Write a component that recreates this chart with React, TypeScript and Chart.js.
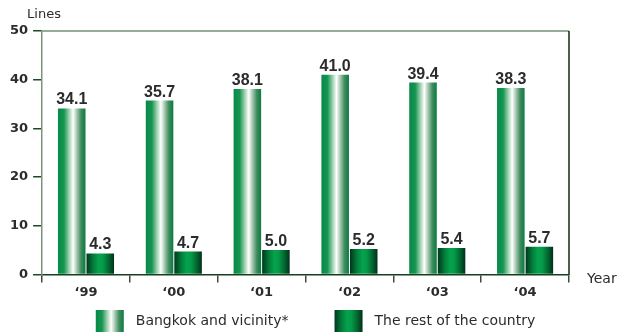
import React, { useEffect, useRef } from "react";
import { Chart, registerables } from "chart.js";

Chart.register(...registerables);

// Telephone lines (per 100 people) by region
const years = ["\u201899", "\u201800", "\u201801", "\u201802", "\u201803", "\u201804"];
const bangkokLines = [34.1, 35.7, 38.1, 41.0, 39.4, 38.3];
const restLines = [4.3, 4.7, 5.0, 5.2, 5.4, 5.7];
const seriesNames = ["Bangkok and vicinity*", "The rest of the country"];
const yAxisTitle = "Lines";
const xAxisTitle = "Year";

const CAT_PCT = 0.65;
const BAR_PCT = 0.965;

// Cylinder-like horizontal shading for each series
const bangkokStops: [number, string][] = [
  [0, "#068a45"],
  [0.22, "#169552"],
  [0.42, "#a9d6b6"],
  [0.55, "#ffffff"],
  [0.68, "#a8c9b2"],
  [0.84, "#3f8d5f"],
  [1, "#0b7a40"],
];
const restStops: [number, string][] = [
  [0, "#00361c"],
  [0.25, "#037d3a"],
  [0.45, "#05a34e"],
  [0.6, "#049a48"],
  [0.8, "#026a31"],
  [1, "#00301a"],
];

const TEXT = "#2b2b2b";

function shade(ctx: CanvasRenderingContext2D, left: number, width: number, stops: [number, string][]) {
  const g = ctx.createLinearGradient(left, 0, left + width, 0);
  stops.forEach(([o, c]) => g.addColorStop(o, c));
  return g;
}

function barFill(stops: [number, string][], datasetIndex: number, datasetCount: number) {
  return (c: any) => {
    const chart = c.chart;
    const x = chart.scales && chart.scales.x;
    if (!chart.chartArea || !x || c.dataIndex === undefined) return stops[2][1];
    const n = chart.data.labels.length;
    const catW = x.width / n;
    const groupW = catW * CAT_PCT;
    const slot = groupW / datasetCount;
    const barW = slot * BAR_PCT;
    const center = x.getPixelForValue(c.dataIndex);
    const slotCenter = center - groupW / 2 + slot * (datasetIndex + 0.5);
    return shade(chart.ctx, slotCenter - barW / 2, barW, stops);
  };
}

const decorPlugin = {
  id: "decor",
  beforeDatasetsDraw(chart: any) {
    const { ctx, chartArea } = chart;
    ctx.save();
    ctx.lineWidth = 1.5;
    ctx.strokeStyle = "#738f76";
    ctx.beginPath();
    ctx.moveTo(chartArea.left, chartArea.top);
    ctx.lineTo(chartArea.right, chartArea.top);
    ctx.stroke();
    ctx.strokeStyle = "#0c2b14";
    ctx.beginPath();
    ctx.moveTo(chartArea.right, chartArea.top);
    ctx.lineTo(chartArea.right, chartArea.bottom);
    ctx.stroke();
    ctx.restore();
  },
  afterDatasetsDraw(chart: any) {
    const { ctx } = chart;
    ctx.save();
    ctx.fillStyle = TEXT;
    ctx.font = "bold 16px 'Liberation Sans', Arial, sans-serif";
    ctx.textAlign = "center";
    ctx.textBaseline = "alphabetic";
    chart.data.datasets.forEach((ds: any, di: number) => {
      const meta = chart.getDatasetMeta(di);
      meta.data.forEach((bar: any, i: number) => {
        ctx.fillText(Number(ds.data[i]).toFixed(1), bar.x, bar.y - 4);
      });
    });
    ctx.restore();
  },
  afterDraw(chart: any) {
    const { ctx, chartArea, width, height } = chart;
    ctx.save();
    ctx.fillStyle = TEXT;
    ctx.textBaseline = "middle";
    ctx.textAlign = "left";
    ctx.font = "13px 'DejaVu Sans', sans-serif";
    ctx.fillText(yAxisTitle, chartArea.left - 15, chartArea.top - 16);
    ctx.font = "14px 'DejaVu Sans', sans-serif";
    ctx.fillText(xAxisTitle, chartArea.right + 18, chartArea.bottom + 5);

    // Legend with shaded swatches
    const sw = 28;
    const sh = 22;
    const gapText = 12;
    const gapItem = 46;
    ctx.font = "14px 'DejaVu Sans', sans-serif";
    const widths = seriesNames.map((t) => ctx.measureText(t).width);
    const total = widths.reduce((a, w) => a + sw + gapText + w, 0) + gapItem * (seriesNames.length - 1);
    let x = width / 2 + 3 - total / 2;
    const top = height - sh;
    const stopsList = [bangkokStops, restStops];
    seriesNames.forEach((t, i) => {
      ctx.fillStyle = shade(ctx, x, sw, stopsList[i]);
      ctx.fillRect(x, top, sw, sh);
      ctx.fillStyle = TEXT;
      ctx.fillText(t, x + sw + gapText, top + sh / 2);
      x += sw + gapText + widths[i] + gapItem;
    });
    ctx.restore();
  },
};

export default function App() {
  const canvasRef = useRef<HTMLCanvasElement | null>(null);

  useEffect(() => {
    if (!canvasRef.current) return;
    Chart.defaults.font.family = "'DejaVu Sans', sans-serif";
    const chart = new Chart(canvasRef.current, {
      type: "bar",
      data: {
        labels: years,
        datasets: [
          {
            label: seriesNames[0],
            data: bangkokLines,
            backgroundColor: barFill(bangkokStops, 0, 2),
            borderWidth: 0,
            categoryPercentage: CAT_PCT,
            barPercentage: BAR_PCT,
          },
          {
            label: seriesNames[1],
            data: restLines,
            backgroundColor: barFill(restStops, 1, 2),
            borderWidth: 0,
            categoryPercentage: CAT_PCT,
            barPercentage: BAR_PCT,
          },
        ],
      },
      options: {
        responsive: true,
        maintainAspectRatio: false,
        animation: false,
        layout: { padding: { left: 5, right: 56, top: 31, bottom: 30 } },
        plugins: {
          legend: { display: false },
          tooltip: { enabled: false },
          title: { display: false },
        },
        scales: {
          x: {
            offset: true,
            grid: {
              offset: true,
              drawOnChartArea: false,
              drawTicks: true,
              tickLength: 8,
              color: "#3a4a3c",
              lineWidth: 1.5,
            },
            border: { display: true, color: "#15401f", width: 1.5 },
            ticks: {
              color: TEXT,
              padding: 2,
              font: { size: 13, weight: "bold", family: "'DejaVu Sans', sans-serif" },
            },
          },
          y: {
            min: 0,
            max: 50,
            grid: {
              drawOnChartArea: false,
              drawTicks: true,
              tickLength: 9,
              color: "#1d4a25",
              lineWidth: 1.5,
            },
            border: { display: true, color: "#7a957c", width: 1.5 },
            ticks: {
              stepSize: 10,
              color: TEXT,
              padding: 5,
              font: { size: 13, weight: "bold", family: "'DejaVu Sans', sans-serif" },
            },
          },
        },
      },
      plugins: [decorPlugin],
    });
    return () => chart.destroy();
  }, []);

  return (
    <div style={{ position: "fixed", left: 0, top: 0, width: 625, height: 332, background: "#fff" }}>
      <canvas ref={canvasRef} />
    </div>
  );
}
